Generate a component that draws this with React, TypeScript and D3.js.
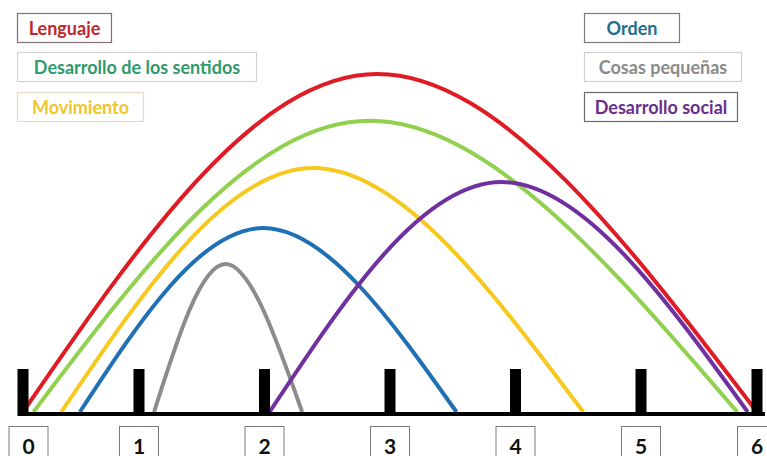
import React from "react";
import * as d3 from "d3";

// Sensitive periods by age (years): start, peak and end of each period, plus peak intensity.
const categories = [
  "Lenguaje",
  "Desarrollo de los sentidos",
  "Movimiento",
  "Orden",
  "Cosas pequeñas",
  "Desarrollo social",
];
const periodStart = [0, 0.09, 0.33, 0.49, 1.12, 2.04];
const periodPeak = [2.9, 2.84, 2.39, 1.99, 1.69, 3.89];
const periodEnd = [6, 5.83, 4.54, 3.53, 2.3, 5.92];
const peakIntensity = [84.5, 72.8, 61, 46, 37, 57.5];

const ageTicks = [0, 1, 2, 3, 4, 5, 6];

const curveColors = ["#e01b24", "#92d050", "#f7c81e", "#1f70b4", "#8c8c8c", "#7030a0"];
const textColors = ["#c0262e", "#2f9a6c", "#f2c52a", "#1f6e8c", "#8a8a8a", "#6a2d8c"];
const boxStroke = ["#7d7078", "#d2d2d2", "#e2dcc4", "#7a7a7a", "#d0d0d0", "#6a6a6a"];

// legend box geometry: two columns of three
const legendBoxes = [
  { x: 17, y: 13, w: 94 },
  { x: 17, y: 52, w: 239 },
  { x: 17, y: 92, w: 126 },
  { x: 584, y: 13, w: 95 },
  { x: 584, y: 52, w: 157 },
  { x: 584, y: 92, w: 153 },
];

export default function App() {
  const W = 767;
  const H = 456;
  const baseY = 414;

  const x = d3.scaleLinear().domain([0, 1, 5, 6]).range([23, 139, 641, 757]);
  const y = d3.scaleLinear().domain([0, 100]).range([412, 12]);

  const line = d3
    .line<[number, number]>()
    .x((d) => x(d[0]))
    .y((d) => y(d[1]))
    .curve(d3.curveNatural);

  return (
    <svg
      width={W}
      height={H}
      style={{ position: "absolute", left: 0, top: 0, background: "#fff" }}
      fontFamily="Lato, 'Open Sans', sans-serif"
    >
      {/* arcs */}
      {categories.map((c, i) => (
        <path
          key={c}
          d={
            line([
              [periodStart[i], 0],
              [periodPeak[i], peakIntensity[i]],
              [periodEnd[i], 0],
            ]) || ""
          }
          fill="none"
          stroke={curveColors[i]}
          strokeWidth={4}
        />
      ))}

      {/* baseline and age ticks */}
      <line x1={18} x2={765} y1={baseY} y2={baseY} stroke="#000" strokeWidth={4} />
      {ageTicks.map((t) => (
        <rect key={t} x={x(t) - 5.5} y={369} width={11} height={47} fill="#000" />
      ))}

      {/* age labels */}
      {ageTicks.map((t) => {
        const cx = Math.max(x(t), 28.5);
        return (
          <g key={t}>
            <rect x={cx - 19.5} y={426.5} width={39} height={40} fill="#fff" stroke="#7a7a7a" strokeWidth={1} />
            <text
              x={cx}
              y={445}
              textAnchor="middle"
              dominantBaseline="central"
              fontSize={21}
              fontWeight={700}
              fill="#111"
            >
              {t}
            </text>
          </g>
        );
      })}

      {/* legend */}
      {categories.map((c, i) => {
        const b = legendBoxes[i];
        return (
          <g key={c}>
            <rect x={b.x + 0.5} y={b.y + 0.5} width={b.w} height={29} fill="#fff" stroke={boxStroke[i]} strokeWidth={1.2} />
            <text
              x={b.x + b.w / 2 + 0.5}
              y={b.y + 15}
              textAnchor="middle"
              dominantBaseline="central"
              fontSize={18}
              fontWeight={700}
              fill={textColors[i]}
            >
              {c}
            </text>
          </g>
        );
      })}
    </svg>
  );
}
